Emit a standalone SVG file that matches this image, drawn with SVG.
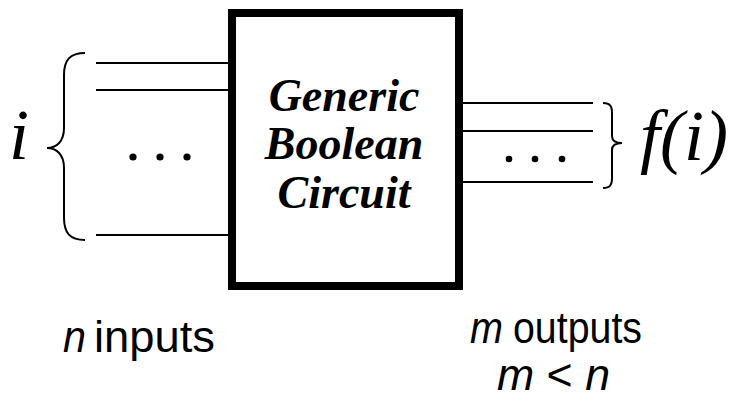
<svg xmlns="http://www.w3.org/2000/svg" width="736" height="401" viewBox="0 0 736 401">
  <style>
    .wire { stroke: #000; stroke-width: 2; fill: none; }
    .brace { stroke: #000; stroke-width: 2; fill: none; }
    .dot { fill: #000; }
    .math { font-family: "Liberation Serif", "Times New Roman", serif; font-style: italic; font-size: 72px; fill: #000; }
    .title { font-family: "Liberation Serif", "Times New Roman", serif; font-style: italic; font-weight: bold; font-size: 46px; fill: #000; text-anchor: middle; }
    .note { font-family: "Liberation Sans", Arial, sans-serif; font-size: 44px; fill: #000; }
    .var { font-style: italic; }
  </style>

  <!-- input / output wires -->
  <g id="connectors">
    <line class="wire" x1="96" y1="63" x2="230" y2="63"/>
    <line class="wire" x1="96" y1="90" x2="230" y2="90"/>
    <line class="wire" x1="96" y1="235" x2="230" y2="235"/>
    <line class="wire" x1="461" y1="103" x2="593" y2="103"/>
    <line class="wire" x1="461" y1="131" x2="593" y2="131"/>
    <line class="wire" x1="461" y1="182" x2="593" y2="182"/>
  </g>

  <!-- the circuit block -->
  <g id="circuit">
    <rect x="232" y="13" width="227" height="273" fill="#fff" stroke="#000" stroke-width="8"/>
    <text class="title" x="344" y="111">Generic</text>
    <text class="title" x="344" y="159">Boolean</text>
    <text class="title" x="344" y="208">Circuit</text>
  </g>

  <!-- inputs: brace, label and ellipsis -->
  <g id="inputs">
    <text class="math" x="9" y="159">i</text>
    <path class="brace" d="M85,53 C70,53 64,60 64,75 L64,128 C64,142 56,148 47,148 C56,148 64,154 64,168 L64,218 C64,233 70,240 85,240"/>
    <circle class="dot" cx="133" cy="157" r="3.6"/>
    <circle class="dot" cx="160" cy="157" r="3.6"/>
    <circle class="dot" cx="187" cy="157" r="3.6"/>
  </g>

  <!-- outputs: ellipsis, brace and label -->
  <g id="outputs">
    <circle class="dot" cx="509" cy="159" r="3.3"/>
    <circle class="dot" cx="535" cy="159" r="3.3"/>
    <circle class="dot" cx="562" cy="159" r="3.3"/>
    <path class="brace" stroke-width="1.5" d="M603,103 C610,103 612,106 612,113 L612,136 C612,141 616,143 622,143 C616,143 612,145 612,150 L612,178 C612,185 610,188 603,188"/>
    <text class="math" x="640" y="160">f(i)</text>
  </g>

  <!-- counts (condensed sans) -->
  <g id="labels">
    <text class="note var" x="63" y="352" textLength="23" lengthAdjust="spacingAndGlyphs">n</text>
    <text class="note" x="94" y="352" textLength="121" lengthAdjust="spacingAndGlyphs">inputs</text>
    <text class="note var" x="470" y="343" textLength="33" lengthAdjust="spacingAndGlyphs">m</text>
    <text class="note" x="513" y="343" textLength="129" lengthAdjust="spacingAndGlyphs">outputs</text>
    <text class="note" x="497" y="390" textLength="113" lengthAdjust="spacingAndGlyphs"><tspan class="var">m</tspan> &lt; <tspan class="var">n</tspan></text>
  </g>
</svg>
